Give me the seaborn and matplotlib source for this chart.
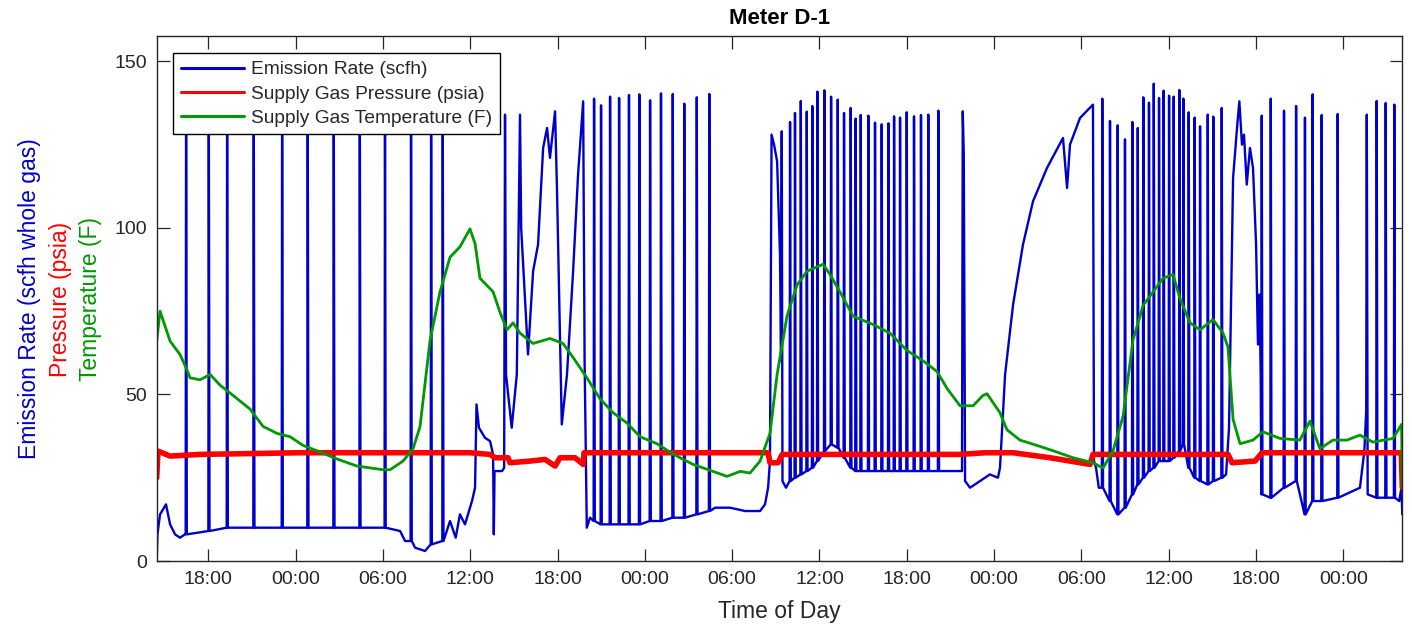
import numpy as np
import pandas as pd
import matplotlib
matplotlib.use("Agg")
import matplotlib.pyplot as plt
import matplotlib.dates as mdates
import seaborn as sns

# ---------------- data (time in hours since midnight of day 1) ----------------
# irregular parts of the emission-rate trace (scfh whole gas)
emis_hours = [14.45, 14.50, 14.68, 15.09, 15.37, 15.71, 16.05, 16.40,
              31.18, 31.52, 32.21, 32.89,
              34.61, 35.00, 35.29, 35.64, 36.12, 36.33, 36.43, 36.60, 37.01, 37.36,
              37.57, 37.62, 37.67, 38.19, 38.33, 38.39, 38.46, 38.85, 39.20, 39.35,
              39.42, 39.50, 39.97, 40.32, 40.66, 41.01, 41.28, 41.48, 41.83, 41.97,
              42.29, 42.65, 43.07, 43.41, 43.76, 43.86, 44.01, 44.23,
              52.83, 53.86, 54.89, 55.92, 56.26, 56.47, 56.60, 56.71, 56.88, 57.09,
              57.29, 57.36, 57.41, 57.46, 57.70,
              69.80, 69.85, 69.92, 70.01, 70.35, 71.03, 71.72, 72.27, 72.41, 72.76,
              73.31, 73.99, 74.68, 75.64, 76.74, 77.02, 77.22, 77.91, 78.80, 78.87,
              79.01, 79.20,
              87.95, 88.15, 88.43, 88.70, 88.86, 89.04, 89.18, 89.37, 89.59, 89.80,
              90.01, 90.14, 90.25, 90.33,
              97.15, 97.45, 97.58, 97.62, 97.68,
              99.85, 100.00, 100.06]
emis_values = [0, 8, 14, 17, 11, 8, 7, 8,
               9, 6, 4, 3,
               12, 7, 14, 11, 18, 22, 47, 40, 37, 36,
               32, 8, 27, 27, 28, 134, 56, 40, 56, 110,
               134, 100, 62, 87, 95, 124, 130, 121, 135, 110,
               41, 56, 87, 116, 138, 60, 10, 13,
               16, 16, 15, 15, 17, 22, 30, 128, 125, 120,
               92, 60, 129, 24, 22,
               27, 135, 122, 24, 22, 24, 26, 25, 28, 56,
               77, 95, 108, 118, 127, 112, 125, 133, 137, 30,
               28, 22,
               26, 40, 115, 130, 138, 125, 128, 113, 124, 118,
               95, 65, 80, 55,
               22, 33, 45, 134, 20,
               18, 22, 14]

# regular sharp spikes of the emission-rate trace
spike_hours = [16.47, 18.03, 19.29, 21.12, 23.07, 24.83, 26.62, 28.41, 30.14, 31.93, 33.31, 34.11,
               44.51, 44.99, 45.61, 46.23, 46.91, 47.62, 48.36, 49.11, 49.92, 50.71, 51.57, 52.43,
               57.98, 58.32, 58.72, 59.13, 59.51, 59.86, 60.34, 60.80, 61.26, 61.69, 62.15, 62.49,
               62.84, 63.36, 63.82, 64.28, 64.74, 65.13, 65.54, 66.00, 66.50, 66.98, 67.48, 68.17,
               79.44, 79.97, 80.50, 81.00, 81.51, 81.88, 82.26, 82.65, 82.98, 83.34, 83.66, 84.03,
               84.35, 84.74, 85.01, 85.38, 85.79, 86.16, 86.69, 87.07, 87.65,
               90.40, 91.02, 91.93, 92.76, 93.37, 93.90, 94.52, 95.62, 98.30, 98.92, 99.51]
spike_peaks = [139, 138, 139, 138, 139, 138, 139, 138, 139, 138, 137, 138,
               138.8, 136.8, 139.4, 139.0, 139.9, 140.1, 138.3, 140.4, 140.2, 137.3, 139.2, 140.2,
               131.8, 134.5, 138.1, 134.9, 136.6, 140.9, 141.3, 139.4, 138.5, 134.5, 136.0, 132.8,
               133.9, 133.7, 131.6, 131.1, 131.4, 133.5, 133.1, 134.7, 133.5, 133.9, 134.0, 135.2,
               138.8, 132.1, 130.8, 126.6, 131.8, 130.0, 139.2, 137.6, 143.3, 139.0, 141.2, 139.7,
               139.4, 141.4, 138.8, 134.7, 133.1, 130.5, 134.0, 133.4, 136.0,
               133.7, 138.8, 135.2, 136.6, 133.1, 140.1, 133.9, 134.2, 138.1, 137.5, 137.0]
spike_bases = [8, 9, 10, 10, 10, 10, 10, 10, 10, 6, 5, 6,
               12, 11, 11, 11, 11, 11, 12, 12, 13, 13, 14, 15,
               24, 25, 26, 27, 28, 30, 33, 35, 34, 31, 28, 27,
               27, 27, 27, 27, 27, 27, 27, 27, 27, 27, 27, 27,
               22, 18, 14, 16, 20, 23, 25, 27, 28, 30, 30, 30,
               31, 33, 35, 28, 25, 24, 23, 24, 25,
               20, 19, 22, 24, 14, 18, 18, 19, 19, 19, 19]

# supply gas pressure (psia)
press_hours = [14.45, 14.54, 15.37, 17.43, 24.30, 31.18, 35.98, 37.36, 37.71, 38.60,
               38.73, 40.11, 41.14, 41.83, 42.17, 43.20, 43.76, 43.82, 51.79, 56.47,
               56.60, 57.16, 57.44, 69.66, 71.38, 73.31, 75.85, 78.60, 78.80, 88.08,
               88.36, 89.94, 90.42, 99.99, 100.06]
press_values = [25, 33, 31.5, 32, 32.5, 32.5, 32.5, 32, 31, 31,
                29.5, 30, 30.5, 28.5, 31, 31, 29, 32.5, 32.5, 32.5,
                29.5, 29.5, 32, 32, 32.5, 32.5, 31, 29, 32, 32,
                29.5, 30, 32.5, 32.5, 22]

# supply gas temperature (F)
temp_hours = [14.45, 14.68, 15.37, 16.05, 16.47, 16.74, 17.43, 18.12, 18.80, 19.70,
              20.87, 21.76, 22.72, 23.62, 24.51, 25.47, 26.85, 28.22, 30.01, 30.49,
              31.38, 32.07, 32.55, 33.24, 33.92, 34.61, 35.29, 35.98, 36.33, 36.67,
              37.57, 38.05, 38.53, 38.94, 39.42, 40.32, 41.48, 42.38, 43.07, 44.03,
              44.92, 45.82, 46.78, 47.67, 48.84, 49.94, 51.31, 52.69, 53.65, 54.55,
              55.23, 55.92, 56.60, 57.09, 57.77, 58.46, 59.15, 60.25, 60.73, 61.41,
              62.31, 63.68, 64.85, 66.02, 67.12, 68.08, 68.77, 69.66, 70.56, 71.24,
              71.52, 72.41, 72.89, 73.78, 74.95, 76.06, 77.43, 78.80, 79.49, 80.18,
              80.87, 81.55, 82.24, 82.93, 83.62, 84.30, 84.79, 85.47, 86.16, 87.05,
              87.74, 88.08, 88.43, 88.91, 89.80, 90.48, 91.65, 93.02, 93.71, 94.40,
              95.29, 96.26, 97.15, 98.04, 99.42, 100.01, 100.06]
temp_values = [66, 75, 66, 62, 58, 55, 54.4, 56, 52.8, 49.7,
               45.6, 40.4, 38.3, 37.3, 34.7, 33.1, 30.6, 28.5, 27.4, 27.4,
               30, 33.7, 40.4, 66.3, 80.8, 91.2, 94.3, 99.7, 95.3, 84.9,
               80.8, 74.6, 69.4, 71.5, 68.4, 65.3, 66.8, 65.3, 61.1, 54.9,
               48.7, 44.5, 41.4, 37.3, 35.2, 32.1, 29, 26.9, 25.4, 26.9,
               26.4, 30, 38.3, 56, 73.5, 82.9, 87, 89.1, 86, 80.8,
               73.5, 71, 68.4, 63.2, 60.1, 56.9, 51.8, 46.6, 46.6, 49.7,
               50.2, 44.5, 39.4, 36.3, 34.7, 33.1, 31, 29.5, 27.9, 33.1,
               43.5, 66.3, 76.7, 80.8, 84.9, 86, 78.7, 71.5, 69.4, 72.5,
               68.4, 64.2, 42.5, 35.2, 36.3, 38.8, 36.8, 36.3, 42, 33.7,
               36.3, 36.3, 37.8, 35.7, 36.8, 41, 22]

x_start_h, x_end_h = 14.45, 100.06
y_ticks = [0, 50, 100, 150]
y_max = 157.7

BLUE, RED, GREEN = "#0000cc", "#ff0000", "#009900"

# ---------------- build tables ----------------
t0 = pd.Timestamp("2017-06-01")
def to_time(h):
    return t0 + pd.to_timedelta(np.asarray(h, dtype=float), unit="h")

pts = list(zip(emis_hours, emis_values))
for t, p, b in zip(spike_hours, spike_peaks, spike_bases):
    pts += [(t - 0.03, b), (t, p), (t + 0.05, b)]
pts.sort(key=lambda q: q[0])
emis_df = pd.DataFrame({"time": to_time([q[0] for q in pts]), "value": [q[1] for q in pts]})
press_df = pd.DataFrame({"time": to_time(press_hours), "value": press_values})
temp_df = pd.DataFrame({"time": to_time(temp_hours), "value": temp_values})

# ---------------- plot ----------------
sns.set_style("ticks")
plt.rcParams["font.family"] = ["Liberation Sans", "DejaVu Sans"]
TXT = "#262626"

W, H = 1412, 629
fig = plt.figure(figsize=(W / 100, H / 100), dpi=100)
ax = fig.add_axes([156.7 / W, 1 - 561 / H, (1402.3 - 156.7) / W, (561 - 35.7) / H])

sns.lineplot(data=emis_df, x="time", y="value", ax=ax, color=BLUE, lw=1.7,
             estimator=None, sort=False, label="Emission Rate (scfh)")
sns.lineplot(data=press_df, x="time", y="value", ax=ax, color=RED, lw=4,
             estimator=None, sort=False, label="Supply Gas Pressure (psia)")
sns.lineplot(data=temp_df, x="time", y="value", ax=ax, color=GREEN, lw=2,
             estimator=None, sort=False, label="Supply Gas Temperature (F)")

ax.set_xlim(to_time([x_start_h])[0], to_time([x_end_h])[0])
ax.set_ylim(0, y_max)
ax.set_yticks(y_ticks)
ax.xaxis.set_major_locator(mdates.HourLocator(byhour=[0, 6, 12, 18]))
ax.xaxis.set_major_formatter(mdates.DateFormatter("%H:%M"))

ax.tick_params(direction="in", length=9, width=0.9, top=True, right=True,
               labelsize=14, colors=TXT, pad=7)
for s in ax.spines.values():
    s.set_visible(True)
    s.set_color(TXT)
    s.set_linewidth(1.0)

ax.set_ylabel("")
ax.set_xlabel("Time of Day", fontsize=16.5, color=TXT)
ax.xaxis.set_label_coords(0.5, -0.075)

fig.text((156.7 + 1402.3) / 2 / W, 1 - 18 / H, "Meter D-1", ha="center", va="center",
         fontsize=16, fontweight="bold", color="black")

ymid = 1 - 299 / H
fig.text(30 / W, ymid, "Emission Rate (scfh whole gas)", rotation=90, ha="center",
         va="center", fontsize=16.5, color=BLUE)
fig.text(60 / W, ymid, "Pressure (psia)", rotation=90, ha="center", va="center",
         fontsize=16.5, color=RED)
fig.text(90 / W, ymid, "Temperature (F)", rotation=90, ha="center", va="center",
         fontsize=16.5, color=GREEN)

leg = ax.legend(loc="upper left", bbox_to_anchor=(173.3 / W, 1 - 53.3 / H),
                bbox_transform=fig.transFigure, borderaxespad=0, fontsize=13.8,
                frameon=True, fancybox=False, framealpha=1, edgecolor="black",
                handlelength=3.3, handletextpad=0.35, labelspacing=0.35, borderpad=0.4)
leg.get_frame().set_linewidth(1.0)
for line in leg.get_lines():
    line.set_linewidth(2.2)

fig.savefig("out.png", dpi=100)
